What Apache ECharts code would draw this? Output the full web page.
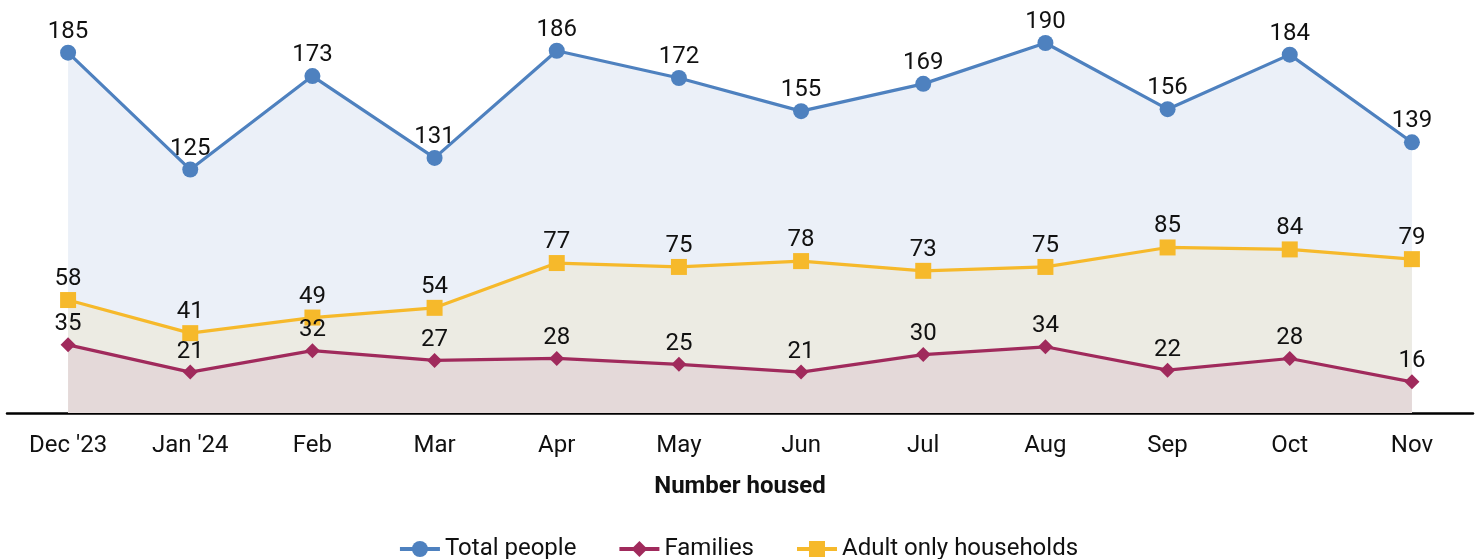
<!DOCTYPE html>
<html>
<head>
<meta charset="utf-8">
<script src="https://cdn.jsdelivr.net/npm/echarts@6/dist/echarts.min.js"></script>
<style>
  html, body { margin: 0; padding: 0; background: #fff; }
  #chart { width: 1476px; height: 559px; }
</style>
</head>
<body>
<div id="chart"></div>
<script>
const months = ["Dec '23", "Jan '24", 'Feb', 'Mar', 'Apr', 'May', 'Jun', 'Jul', 'Aug', 'Sep', 'Oct', 'Nov']
const totalPeople = [185, 125, 173, 131, 186, 172, 155, 169, 190, 156, 184, 139]
const families = [35, 21, 32, 27, 28, 25, 21, 30, 34, 22, 28, 16]
const adultOnly = [58, 41, 49, 54, 77, 75, 78, 73, 75, 85, 84, 79]

const font = 'Roboto, "Liberation Sans", sans-serif'

const chart = echarts.init(document.getElementById('chart'))

function lineSeries(name, data, color, areaColor, symbol, size, z) {
  return {
    name: name,
    type: 'line',
    data: data,
    z: z,
    symbol: symbol,
    symbolSize: size,
    itemStyle: { color: color },
    lineStyle: { color: color, width: 3.2 },
    areaStyle: { color: areaColor, opacity: 1 },
    label: {
      show: true,
      position: 'top',
      distance: 1,
      color: '#111',
      fontSize: 24,
      fontFamily: font
    },
    animation: false
  }
}

chart.setOption({
  grid: { left: 7, right: 3, top: 23.5, height: 389.5 },
  legend: {
    bottom: -7,
    left: 'center',
    itemGap: 41,
    itemWidth: 40,
    itemHeight: 20,
    lineStyle: { width: 4 },
    textStyle: { fontSize: 24, color: '#111', fontFamily: font },
    data: ['Total people', 'Families', 'Adult only households']
  },
  xAxis: {
    type: 'category',
    data: months,
    boundaryGap: true,
    name: 'Number housed',
    nameLocation: 'middle',
    nameGap: 62,
    nameTextStyle: { fontSize: 24, fontWeight: 'bold', color: '#111', fontFamily: font },
    axisLine: { lineStyle: { color: '#000', width: 2.5 } },
    axisTick: { show: false },
    axisLabel: { fontSize: 24, color: '#111', fontFamily: font, margin: 21 }
  },
  yAxis: {
    type: 'value',
    min: 0,
    max: 200,
    show: false,
    splitLine: { show: false }
  },
  series: [
    lineSeries('Total people', totalPeople, '#4e81bf', '#ebf0f8', 'circle', 16, 2),
    lineSeries('Adult only households', adultOnly, '#f6b92b', '#ecebe3', 'rect', 16, 3),
    lineSeries('Families', families, '#a02a5c', '#e4d9d9', 'diamond', 15, 4)
  ]
})
</script>
</body>
</html>
